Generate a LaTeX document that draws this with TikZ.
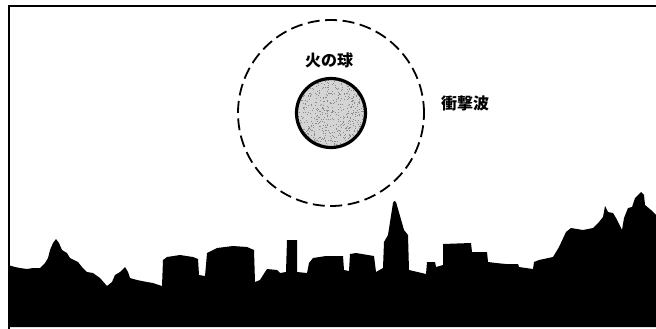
\documentclass[tikz,border=0pt]{standalone}
\usepackage{fontspec}
\newfontfamily\jpfont{Noto Sans CJK JP}
\begin{document}
\begin{tikzpicture}[x=1pt,y=-1pt,
  label text/.style={font=\jpfont\bfseries\fontsize{16}{17}\selectfont, inner sep=0pt},
  shock/.style={circle, draw=black, line width=1.8pt, dash pattern=on 12pt off 5.5pt, minimum size=186pt, inner sep=0pt},
  fireball/.style={circle, draw=black, line width=2.2pt, fill=black!17, minimum size=70pt, inner sep=0pt},
  grain/.style={fill=black!45},
  frame/.style={line width=2pt, line cap=rect}]
\useasboundingbox (0,0) rectangle (656,329);

% frame (top and left edges)
\draw[frame] (9,328) -- (9,6) -- (656,6);

% shock wave and fireball
\node[shock] (wave) at (331,113) {};
\node[fireball] (ball) at (331,113) {};
% speckled texture inside the fireball
\begin{scope}
  \clip (ball.center) circle[radius=33pt];
  \pgfmathsetseed{4711}
  \foreach \i in {1,...,700} {
    \pgfmathsetmacro{\px}{296+70*rnd}
    \pgfmathsetmacro{\py}{78+70*rnd}
    \fill[grain] (\px,\py) rectangle ++(1,1);
  }
\end{scope}
\draw[line width=2.2pt] (ball.center) circle[radius=34pt];

\node[label text] (balltext) at (329,60) {火の球};
\node[label text] (wavetext) at (465,103.5) {衝撃波};

% city skyline silhouette
\fill[black] (8,327) -- (8,265) -- (15,267) -- (20,268) -- (27,269) -- (33,268) -- (40,268)
  -- (45,263) -- (48,258) -- (50,250) -- (53,243) -- (56,239) -- (59,243) -- (62,250)
  -- (67,253) -- (70,258) -- (78,262) -- (82,267) -- (87,272) -- (93,273) -- (100,278)
  -- (107,286) -- (112,282) -- (115,275) -- (120,272) -- (125,267) -- (128,272) -- (130,278)
  -- (137,280) -- (147,282) -- (153,283) -- (162,286)
  % gas holder
  -- (163,260) -- (167,257) -- (180,255) -- (193,257) -- (198,259) -- (199,275)
  -- (205,276) -- (206,265)
  % large tank
  -- (207,253) -- (217,248) -- (233,246) -- (247,247) -- (254,250) -- (255,282)
  -- (260,280) -- (265,272) -- (267,269) -- (277,270) -- (280,273) -- (286,272)
  % chimney
  -- (287,240) -- (297,240) -- (297,272) -- (307,273)
  -- (309,263) -- (313,258) -- (326,256) -- (343,256) -- (344,270) -- (349,271)
  -- (350,254) -- (356,253) -- (374,256) -- (376,272) -- (383,268)
  % church spire
  -- (384,242) -- (388,235) -- (393,203) -- (394,201) -- (396,202) -- (404,230)
  -- (408,235) -- (409,270) -- (426,274) -- (427,262) -- (435,262) -- (436,267)
  -- (443,265) -- (443,244) -- (471,243) -- (472,252) -- (487,252) -- (488,262)
  -- (496,263) -- (506,264) -- (518,264) -- (519,267) -- (533,269) -- (534,262)
  -- (539,260) -- (553,257)
  % wooded hills on the right
  -- (559,247) -- (566,232) -- (571,228) -- (583,230) -- (593,228) -- (599,222)
  -- (603,217) -- (605,206) -- (608,212) -- (613,213) -- (616,218) -- (622,230)
  -- (624,218) -- (628,208) -- (632,207) -- (635,198) -- (641,192) -- (644,195)
  -- (645,205) -- (651,210) -- (656,215) -- (656,327) -- cycle;
\end{tikzpicture}
\end{document}
